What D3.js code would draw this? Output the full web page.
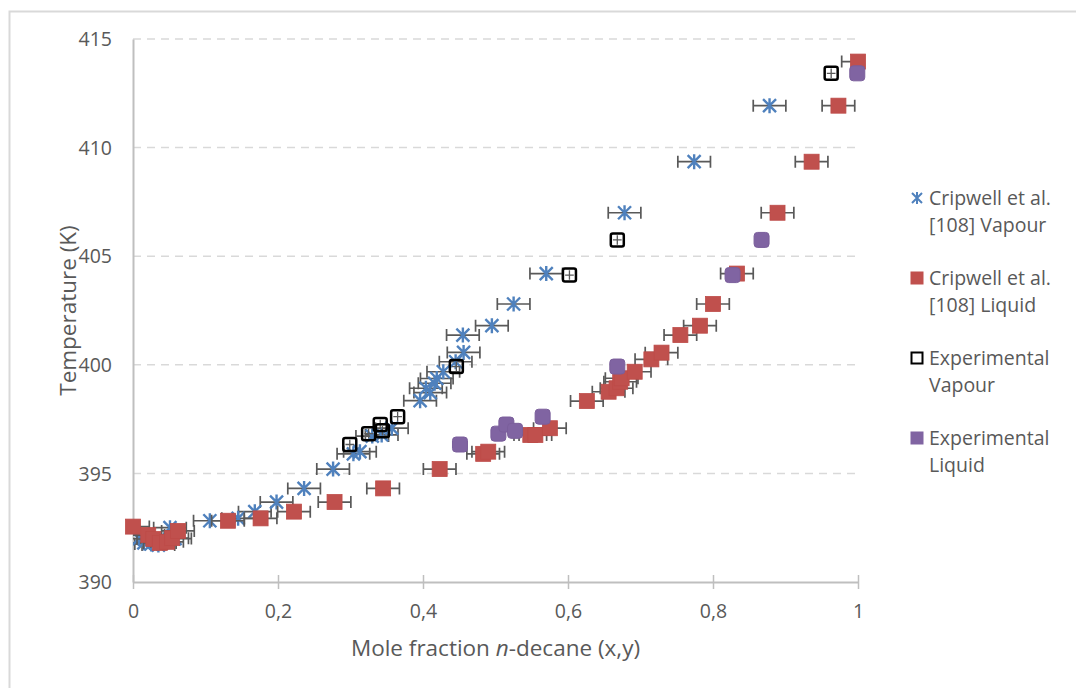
<!DOCTYPE html>
<meta charset="utf-8">
<style>
body { margin: 0; background: #fff; }
text { font-family: "Open Sans", sans-serif; fill: #595959; }
</style>
<body>
<div id="chart"></div>
<script src="https://cdnjs.cloudflare.com/ajax/libs/d3/7.8.5/d3.min.js"></script>
<script>

// Cripwell et al. [108] vapour (mole fraction y, temperature K)
var cripVapX = [0.008, 0.015, 0.025, 0.035, 0.051, 0.058, 0.106, 0.145, 0.168, 0.198, 0.236, 0.276,
  0.304, 0.313, 0.330, 0.343, 0.357, 0.396, 0.410, 0.404, 0.416, 0.419, 0.428, 0.445, 0.456, 0.455,
  0.495, 0.525, 0.570, 0.678, 0.774, 0.878];
var cripVapT = [392.0, 391.8, 391.75, 391.7, 392.5, 392.0, 392.82, 392.93, 393.24, 393.68, 394.31, 395.2,
  395.9, 396.0, 396.72, 396.77, 397.08, 398.35, 398.72, 398.92, 399.15, 399.37, 399.68, 400.14, 400.57, 401.37,
  401.8, 402.8, 404.2, 407.0, 409.35, 411.93];

// Cripwell et al. [108] liquid
var cripLiqX = [0.0, 0.021, 0.028, 0.037, 0.047, 0.054, 0.062, 0.131, 0.176, 0.222, 0.278, 0.345,
  0.423, 0.483, 0.490, 0.548, 0.555, 0.575, 0.626, 0.656, 0.667, 0.672, 0.674, 0.692, 0.715, 0.729,
  0.755, 0.782, 0.800, 0.833, 0.889, 0.936, 0.973, 1.0];
var cripLiqT = [392.55, 392.16, 391.98, 391.8, 391.85, 392.02, 392.35, 392.82, 392.93, 393.24, 393.68, 394.31,
  395.2, 395.9, 396.0, 396.77, 396.77, 397.08, 398.33, 398.76, 398.92, 399.22, 399.38, 399.68, 400.25, 400.56,
  401.37, 401.8, 402.8, 404.2, 407.0, 409.35, 411.93, 413.96];

// experimental vapour
var expVapX = [0.299, 0.325, 0.341, 0.344, 0.365, 0.446, 0.602, 0.668, 0.963];
var expVapT = [396.33, 396.83, 397.25, 396.96, 397.61, 399.92, 404.13, 405.75, 413.42];

// experimental liquid
var expLiqX = [0.451, 0.504, 0.515, 0.527, 0.565, 0.668, 0.827, 0.867, 0.999];
var expLiqT = [396.33, 396.83, 397.25, 396.96, 397.61, 399.92, 404.13, 405.75, 413.42];

var cripErrX = 0.0225;
var expErrX = 0.006, expErrT = 0.22;

var xTicks = [0, 0.2, 0.4, 0.6, 0.8, 1];
var xTickLabels = ["0", "0,2", "0,4", "0,6", "0,8", "1"];
var yTicks = [390, 395, 400, 405, 410, 415];
var legendLabels = [["Cripwell et al.", "[108] Vapour"], ["Cripwell et al.", "[108] Liquid"],
  ["Experimental", "Vapour"], ["Experimental", "Liquid"]];

var W = 1076, H = 688;
var margin = {top: 39, left: 133},
    width = 858 - 133,
    height = 582 - 39;

var svg = d3.select("#chart").append("svg")
    .attr("width", W).attr("height", H);

// chart frame
svg.append("rect")
    .attr("x", 9.5).attr("y", 11.5)
    .attr("width", W).attr("height", H)
    .attr("fill", "none").attr("stroke", "#d9d9d9").attr("stroke-width", 2);

var x = d3.scaleLinear().domain([0, 1]).range([0, width]);
var y = d3.scaleLinear().domain([390, 415]).range([height, 0]);

var g = svg.append("g")
    .attr("transform", "translate(" + margin.left + "," + margin.top + ")");

g.append("clipPath").attr("id", "plotclip")
  .append("rect").attr("x", 0).attr("y", -10).attr("width", width).attr("height", height + 10);

// gridlines
g.selectAll(".grid")
  .data(yTicks.slice(1))
  .enter().append("line")
    .attr("x1", 0).attr("x2", width)
    .attr("y1", function(d) { return y(d); })
    .attr("y2", function(d) { return y(d); })
    .attr("stroke", "#d9d9d9").attr("stroke-width", 1.5)
    .attr("stroke-dasharray", "8,6");

// y axis
var yAxis = g.append("g")
    .call(d3.axisLeft(y).tickValues(yTicks).tickSize(0).tickPadding(21).tickFormat(d3.format("d")));
yAxis.select(".domain").attr("stroke", "#bfbfbf").attr("stroke-width", 2);
yAxis.selectAll("text").attr("font-size", 19.5).attr("fill", "#595959")
    .attr("font-family", "Open Sans").attr("dy", "0.34em");

// x axis
var xAxis = g.append("g")
    .attr("transform", "translate(0," + height + ")")
    .call(d3.axisBottom(x).tickValues(xTicks).tickSizeInner(7).tickSizeOuter(0).tickPadding(15)
      .tickFormat(function(d, i) { return xTickLabels[i]; }));
xAxis.select(".domain").attr("stroke", "#bfbfbf").attr("stroke-width", 2);
xAxis.selectAll(".tick line").attr("stroke", "#bfbfbf").attr("stroke-width", 1.5).attr("y1", -7);
xAxis.selectAll("text").attr("font-size", 19.5).attr("fill", "#595959")
    .attr("font-family", "Open Sans");

// axis titles
g.append("text")
    .attr("transform", "translate(" + (68 - margin.left) + "," + (height / 2) + ") rotate(-90)")
    .attr("text-anchor", "middle").attr("dy", "0.35em")
    .attr("font-size", 22.5)
    .text("Temperature (K)");

var xt = g.append("text")
    .attr("x", width / 2).attr("y", 648 - margin.top)
    .attr("text-anchor", "middle").attr("dy", "0.35em")
    .attr("font-size", 22.5);
xt.append("tspan").text("Mole fraction ");
xt.append("tspan").attr("font-style", "italic").text("n");
xt.append("tspan").text("-decane (x,y)");

function zip(xs, ts) {
  return xs.map(function(v, i) { return {x: v, t: ts[i]}; });
}

var plot = g.append("g").attr("clip-path", "url(#plotclip)");

function hbars(sel, data, ex) {
  var eb = sel.append("g").attr("stroke", "#595959").attr("stroke-width", 1.7).attr("fill", "none");
  eb.selectAll("path")
    .data(data)
    .enter().append("path")
      .attr("d", function(d) {
        var x0 = x(d.x - ex), x1 = x(d.x + ex), yy = y(d.t);
        return "M" + x0 + "," + yy + "H" + x1 +
          "M" + x0 + "," + (yy - 6) + "V" + (yy + 6) +
          "M" + x1 + "," + (yy - 6) + "V" + (yy + 6);
      });
}

function xybars(sel, data) {
  var eb = sel.append("g").attr("stroke", "#595959").attr("stroke-width", 1.3).attr("fill", "none");
  eb.selectAll("path")
    .data(data)
    .enter().append("path")
      .attr("d", function(d) {
        var x0 = x(d.x - expErrX), x1 = x(d.x + expErrX), yy = y(d.t);
        var y0 = y(d.t - expErrT), y1 = y(d.t + expErrT), xx = x(d.x);
        return "M" + x0 + "," + yy + "H" + x1 + "M" + xx + "," + y0 + "V" + y1;
      });
}

var vap = zip(cripVapX, cripVapT),
    liq = zip(cripLiqX, cripLiqT),
    evap = zip(expVapX, expVapT),
    eliq = zip(expLiqX, expLiqT);

var starPath = "M-6.5,-6.5L6.5,6.5M-6.5,6.5L6.5,-6.5M0,-7.5L0,7.5";

// Cripwell vapour
hbars(plot, vap, cripErrX);
plot.append("g").selectAll("path")
  .data(vap)
  .enter().append("path")
    .attr("transform", function(d) { return "translate(" + x(d.x) + "," + y(d.t) + ")"; })
    .attr("d", starPath)
    .attr("stroke", "#4f81bd").attr("stroke-width", 2.4).attr("fill", "none");

// Cripwell liquid
hbars(plot, liq, cripErrX);
g.append("g").selectAll("rect")
  .data(liq)
  .enter().append("rect")
    .attr("x", function(d) { return x(d.x) - 7.5; })
    .attr("y", function(d) { return y(d.t) - 7.5; })
    .attr("width", 15).attr("height", 15)
    .attr("fill", "#c0504d").attr("stroke", "#bd4b48").attr("stroke-width", 0.8);

// experimental vapour
xybars(plot, evap);
g.append("g").selectAll("rect")
  .data(evap)
  .enter().append("rect")
    .attr("x", function(d) { return x(d.x) - 6.5; })
    .attr("y", function(d) { return y(d.t) - 6.5; })
    .attr("width", 13).attr("height", 13).attr("rx", 2)
    .attr("fill", "none").attr("stroke", "#000").attr("stroke-width", 2.5);

// experimental liquid
xybars(plot, eliq);
g.append("g").selectAll("rect")
  .data(eliq)
  .enter().append("rect")
    .attr("x", function(d) { return x(d.x) - 7.5; })
    .attr("y", function(d) { return y(d.t) - 7.5; })
    .attr("width", 15).attr("height", 15).attr("rx", 3.5)
    .attr("fill", "#8064a2").attr("stroke", "#7a5e9b").attr("stroke-width", 1);

// legend
var legend = svg.append("g").attr("transform", "translate(917,198)");
var items = legend.selectAll("g")
  .data(legendLabels)
  .enter().append("g")
    .attr("transform", function(d, i) { return "translate(0," + (i * 80) + ")"; });

items.each(function(d, i) {
  var it = d3.select(this);
  if (i === 0) {
    it.append("path").attr("d", "M-5,-5L5,5M-5,5L5,-5M0,-6L0,6")
      .attr("stroke", "#4f81bd").attr("stroke-width", 2).attr("fill", "none");
  } else if (i === 1) {
    it.append("rect").attr("x", -6.5).attr("y", -6.5).attr("width", 13).attr("height", 13)
      .attr("fill", "#c0504d");
  } else if (i === 2) {
    it.append("rect").attr("x", -5.5).attr("y", -5.5).attr("width", 11).attr("height", 11)
      .attr("fill", "#fff").attr("stroke", "#000").attr("stroke-width", 2);
  } else {
    it.append("rect").attr("x", -6.5).attr("y", -6.5).attr("width", 13).attr("height", 13)
      .attr("fill", "#8064a2");
  }
  it.selectAll("text")
    .data(d)
    .enter().append("text")
      .attr("x", 12)
      .attr("y", function(s, j) { return 7 + j * 26.7; })
      .attr("font-size", 19.5)
      .text(function(s) { return s; });
});

</script>
</body>
